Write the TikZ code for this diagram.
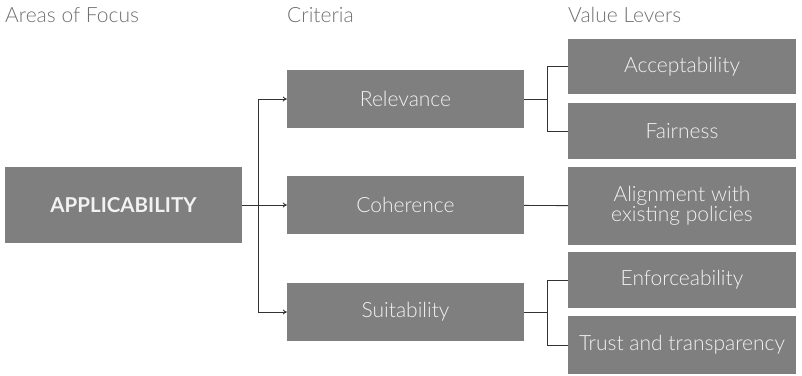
\documentclass[tikz,border=0pt]{standalone}
\usepackage{fontspec}
\setmainfont{Lato}[UprightFont=* Light, BoldFont=* Bold]
\usetikzlibrary{positioning,arrows.meta}

\definecolor{boxgray}{HTML}{7F7F7F}
\definecolor{headgray}{HTML}{707070}
\definecolor{linegray}{HTML}{333333}

\tikzset{
  block/.style={fill=boxgray, text=white!95!black, align=center,
    inner sep=0pt, font=\fontsize{21}{20}\selectfont},
  focus/.style={block, minimum width=237pt, minimum height=76pt,
    font=\fontsize{20.5}{20}\selectfont\bfseries},
  criterion/.style={block, minimum width=237pt, minimum height=58pt},
  lever/.style={block, minimum width=228pt},
  heading/.style={anchor=west, text=headgray, inner sep=0pt,
    font=\fontsize{21}{20}\selectfont},
  link/.style={draw=linegray, line width=0.9pt},
  arrowlink/.style={link, -{To[length=4pt,width=5pt]}},
}

\begin{document}
\begin{tikzpicture}[x=1pt,y=-1pt]
	\useasboundingbox (0,0) rectangle (802,375);
		\draw (5,15) node [heading] (h1) {Areas of Focus};
		\draw (287,15) node [heading] (h2) {Criteria};
		\draw (568,15) node [heading] (h3) {Value Levers};
		\draw (123.5,205) node [focus] (app) {APPLICABILITY};
		\draw (405.5,99) node [criterion] (rel) {Relevance};
		\draw (405.5,205) node [criterion] (coh) {Coherence};
		\draw (405.5,312) node [criterion] (sui) {Suitability};
		\draw (682,66.5) node [lever, minimum height=55pt] (acc) {Acceptability};
		\draw (682,131) node [lever, minimum height=56pt] (fai) {Fairness};
		\draw (682,206) node [lever, minimum height=78pt] (ali) {Alignment with\\existing policies};
		\draw (682,280) node [lever, minimum height=56pt] (enf) {Enforceability};
		\draw (682,345) node [lever, minimum height=58pt] (tru) {Trust and transparency};
		% branch points
		\coordinate (s1) at (258,205);
		\coordinate (s2) at (547,99);
		\coordinate (s3) at (547,312);
		\draw[link] (app) -- (s1);
		\draw[arrowlink] (s1) |- (rel);
		\draw[arrowlink] (s1) -- (coh);
		\draw[arrowlink] (s1) |- (sui);
		\draw[link] (rel) -- (s2);
		\draw[link] (s2) |- (acc) (s2) |- (fai);
		\draw[link] (coh) -- (ali);
		\draw[link] (sui) -- (s3);
		\draw[link] (s3) |- (enf) (s3) |- (tru);
	\end{tikzpicture}
\end{document}
